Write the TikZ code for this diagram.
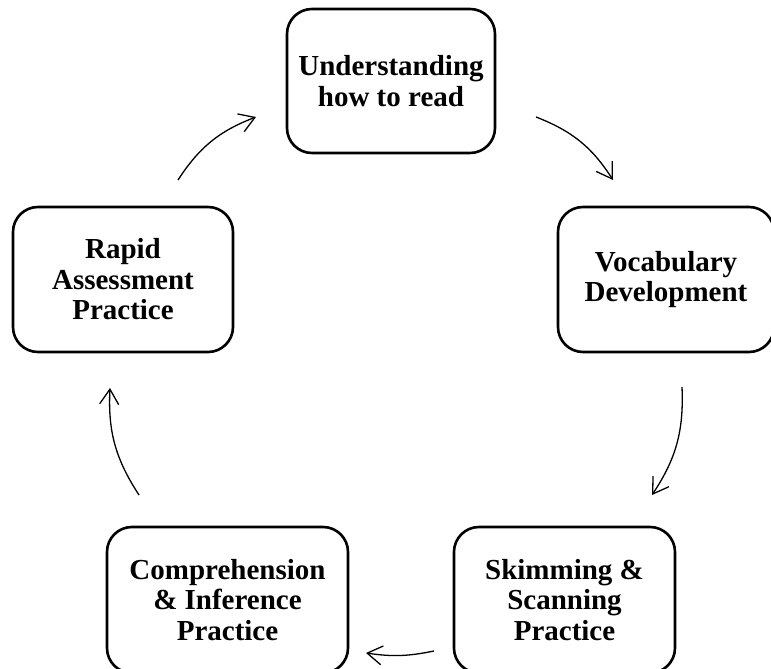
\documentclass[tikz,border=0pt]{standalone}
\usepackage{fontspec}
\setmainfont{Liberation Serif}
\usetikzlibrary{arrows.meta}
\begin{document}
\begin{tikzpicture}[x=1pt,y=1pt,
  stagebox/.style={draw=black, line width=2.6pt, rounded corners=25pt, rectangle,
    align=center, inner sep=0pt,
    font=\fontsize{29}{30.5}\selectfont\bfseries},
  cyclearrow/.style={draw=black, line width=1.3pt,
    -{Straight Barb[length=15pt,width=19pt,line width=1.3pt]}}]
\useasboundingbox (0,0) rectangle (771,669);
\node[stagebox, minimum width=208pt, minimum height=144pt] (top) at (391,588) {Understanding\\how to read};
\node[stagebox, minimum width=216pt, minimum height=145pt] (right) at (666,389.5) {Vocabulary\\Development};
\node[stagebox, minimum width=221pt, minimum height=146pt] (bright) at (564.5,69) {Skimming \&\\Scanning\\Practice};
\node[stagebox, minimum width=241pt, minimum height=146pt] (bleft) at (227.5,69) {Comprehension\\\& Inference\\Practice};
\node[stagebox, minimum width=220pt, minimum height=145pt] (left) at (123,389.5) {Rapid\\Assessment\\Practice};
\coordinate (a1s) at (536,552);
\coordinate (a1e) at (613,489);
\coordinate (a2s) at (682,282);
\coordinate (a2e) at (652,174);
\coordinate (a3s) at (434,18);
\coordinate (a3e) at (366,16);
\coordinate (a4s) at (139,174);
\coordinate (a4e) at (110,281);
\coordinate (a5s) at (178,489);
\coordinate (a5e) at (256,552);
\draw[cyclearrow] (a1s) to[bend left=18] (a1e);
\draw[cyclearrow] (a2s) to[bend left=18] (a2e);
\draw[cyclearrow] (a3s) to[bend left=10] (a3e);
\draw[cyclearrow] (a4s) to[bend left=18] (a4e);
\draw[cyclearrow] (a5s) to[bend left=18] (a5e);
\end{tikzpicture}
\end{document}
